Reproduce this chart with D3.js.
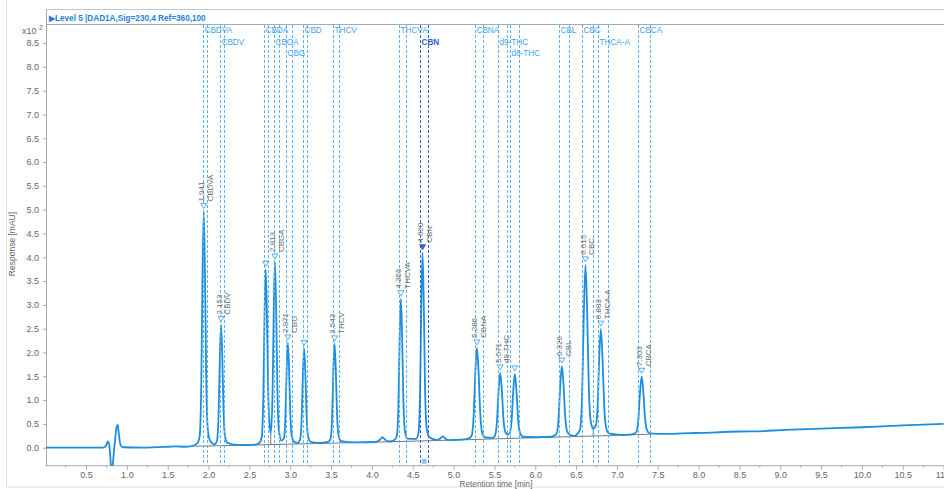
<!DOCTYPE html>
<html>
<head>
<meta charset="utf-8">
<script src="https://cdn.jsdelivr.net/npm/d3@7"></script>
<style>
  body { margin: 0; background: #fff; }
  svg { font-family: "Liberation Sans", Arial, sans-serif; display: block; }
  .tick text { fill: #666; font-size: 9px; }
  .tick line { stroke: #a4aab4; }
  .domain { stroke: #a4aab4; }
</style>
</head>
<body>
<div class="container"></div>
<script>
const w = 944
const h = 489

// compound windows (start / end retention time, min)
const windowNames = ["CBDVA","CBDV","CBDA","CBGA","CBG","CBD","THCV","THCVA","CBN","CBNA","d9-THC","d8-THC","CBL","CBC","THCA-A","CBCA"]
const windowStart = [1.936,2.140,2.675,2.805,2.945,3.153,3.528,4.328,4.593,5.263,5.544,5.691,6.291,6.573,6.765,7.259]
const windowEnd   = [1.978,2.186,2.724,2.859,3.022,3.206,3.601,4.418,4.684,5.364,5.651,5.805,6.417,6.711,6.895,7.409]
const selected = "CBN"

// detected peaks
const peakNames  = ["CBDVA","CBDV","CBDA","CBGA","CBG","CBD","THCV","THCVA","CBN","CBNA","d9-THC","d8-THC","CBL","CBC","THCA-A","CBCA"]
const peakTimes  = [1.941,2.153,2.700,2.813,2.971,3.170,3.543,4.355,4.620,5.286,5.571,5.750,6.326,6.615,6.803,7.303]
const peakLabels = ["1.941","2.153","2.700","2.813","2.971","3.170","3.543","4.355","4.620","5.286","5.571","5.750","6.326","6.615","6.803","7.303"]
const peakApex   = [4.96,2.585,3.745,3.9,2.2,2.085,2.18,3.13,4.095,2.095,1.57,1.55,1.715,3.84,2.49,1.5]

// signal trace [time min, response x10^2 mAU]
const trace = [
  [0,0],[0.5,0],[0.7,0],[0.745,0.04],[0.765,0.13],[0.785,0.05],[0.8,-0.25],[0.815,-0.6],[0.83,-0.3],[0.855,0.15],[0.875,0.44],[0.888,0.48],[0.9,0.32],[0.92,0.07],[0.95,0.01],[1.2,0.0],[1.5,0.02],[1.6,0.03],[1.7,0.02],[1.8,0.035],
  [1.861,0.09],[1.891,0.24],[1.911,1.32],[1.926,3.58],[1.941,4.96],[1.956,3.68],[1.971,1.52],[1.991,0.38],[2.021,0.14],
  [2.073,0.07],[2.103,0.145],[2.123,0.71],[2.138,1.87],[2.153,2.585],[2.168,1.925],[2.183,0.81],[2.203,0.22],[2.233,0.1],
  [2.35,0.06],[2.55,0.06],
  [2.62,0.1],[2.65,0.21],[2.67,1.02],[2.685,2.71],[2.70,3.745],[2.715,2.79],[2.73,1.17],[2.75,0.45],[2.762,0.3],
  [2.783,1.07],[2.798,2.83],[2.813,3.9],[2.828,2.9],[2.843,1.22],[2.863,0.34],[2.893,0.15],
  [2.921,0.19],[2.941,0.63],[2.956,1.61],[2.971,2.2],[2.986,1.65],[3.001,0.72],[3.021,0.23],[3.051,0.12],
  [3.09,0.1],[3.12,0.165],[3.14,0.605],[3.155,1.525],[3.17,2.085],[3.185,1.565],[3.20,0.685],[3.22,0.225],[3.25,0.125],
  [3.35,0.1],
  [3.463,0.12],[3.493,0.18],[3.513,0.64],[3.528,1.6],[3.543,2.18],[3.558,1.64],[3.573,0.72],[3.593,0.25],[3.623,0.14],
  [3.8,0.11],[4.05,0.12],[4.1,0.17],[4.13,0.22],[4.16,0.17],[4.21,0.13],
  [4.275,0.16],[4.305,0.25],[4.325,0.91],[4.34,2.29],[4.355,3.13],[4.37,2.35],[4.385,1.03],[4.405,0.34],[4.435,0.19],
  [4.54,0.185],[4.57,0.305],[4.59,1.17],[4.605,2.99],[4.62,4.095],[4.635,3.07],[4.65,1.33],[4.67,0.42],[4.70,0.225],
  [4.8,0.16],[4.84,0.2],[4.87,0.24],[4.9,0.19],[4.95,0.16],[5.1,0.17],
  [5.186,0.195],[5.221,0.25],[5.246,0.675],[5.266,1.56],[5.286,2.095],[5.306,1.6],[5.326,0.75],[5.351,0.31],[5.386,0.215],
  [5.471,0.205],[5.506,0.245],[5.531,0.55],[5.551,1.18],[5.571,1.57],[5.591,1.21],[5.611,0.6],[5.636,0.32],[5.66,0.28],
  [5.685,0.3],[5.71,0.55],[5.73,1.17],[5.75,1.55],[5.77,1.2],[5.79,0.6],[5.815,0.3],[5.85,0.23],
  [6.0,0.22],[6.2,0.23],
  [6.226,0.25],[6.261,0.295],[6.286,0.62],[6.306,1.3],[6.326,1.715],[6.346,1.33],[6.366,0.68],[6.391,0.34],[6.426,0.265],
  [6.48,0.25],
  [6.515,0.285],[6.55,0.395],[6.575,1.18],[6.595,2.83],[6.615,3.84],[6.635,2.91],[6.655,1.33],[6.68,0.55],[6.71,0.4],
  [6.74,0.45],[6.763,0.84],[6.783,1.87],[6.803,2.49],[6.823,1.91],[6.843,0.93],[6.868,0.42],[6.903,0.3],
  [7.05,0.27],[7.15,0.275],
  [7.203,0.29],[7.238,0.33],[7.263,0.6],[7.283,1.16],[7.303,1.5],[7.323,1.18],[7.343,0.65],[7.368,0.37],[7.403,0.3],
  [7.5,0.29],[7.8,0.3],[8.0,0.31],[8.5,0.34],[8.8,0.35],[9.0,0.37],[9.5,0.4],[10.0,0.43],[10.5,0.47],[11.0,0.5]
]

// integration baseline and drop lines
const intBase = [[1.84,0.03],[3.0,0.075],[4.0,0.115],[5.0,0.16],[6.0,0.21],[7.0,0.26],[7.42,0.285]]
const dropTimes = [2.762,5.66,6.71]
const dropTops  = [0.3,0.28,0.4]

const xTicks = [0.5,1,1.5,2,2.5,3,3.5,4,4.5,5,5.5,6,6.5,7,7.5,8,8.5,9,9.5,10,10.5,11]
const xMinor = [0.25,0.75,1.25,1.75,2.25,2.75,3.25,3.75,4.25,4.75,5.25,5.75,6.25,6.75,7.25,7.75,8.25,8.75,9.25,9.75,10.25,10.75]
const yTicks = [0,0.5,1,1.5,2,2.5,3,3.5,4,4.5,5,5.5,6,6.5,7,7.5,8,8.5]

const plotLeft = 46, plotTop = 24, plotBottom = 465.7

const x = d3.scaleLinear().domain([0, 11]).range([45.2, 943.6])
const y = d3.scaleLinear().domain([-0.378, 8.9]).range([plotBottom, plotTop])

const svg = d3.select(".container")
              .append("svg")
              .attr("width", w)
              .attr("height", h)

svg.append("defs").append("clipPath")
    .attr("id", "plot")
  .append("rect")
    .attr("x", plotLeft).attr("y", plotTop)
    .attr("width", w - plotLeft).attr("height", plotBottom - plotTop)

// outer frame
svg.append("rect")
    .attr("x", 6.5).attr("y", -2)
    .attr("width", w).attr("height", 489)
    .attr("fill", "none")
    .attr("stroke", "#dfe1e4")

// header bar
svg.append("line")
    .attr("x1", plotLeft).attr("x2", w).attr("y1", 9.5).attr("y2", 9.5)
    .attr("stroke", "#c4c6ca")
svg.append("line")
    .attr("x1", plotLeft).attr("x2", w).attr("y1", plotTop + 0.5).attr("y2", plotTop + 0.5)
    .attr("stroke", "#a4aab4")
svg.append("line")
    .attr("x1", plotLeft + 0.5).attr("x2", plotLeft + 0.5).attr("y1", 9.5).attr("y2", plotTop)
    .attr("stroke", "#a4aab4")
svg.append("text")
    .attr("x", 49).attr("y", 20.5)
    .attr("fill", "#1f7fd6")
    .attr("font-size", 8.2)
    .attr("font-weight", "bold")
    .text("\u25B6Level 5 |DAD1A,Sig=230,4 Ref=360,100")

// axes
const yAxis = d3.axisLeft(y).tickValues(yTicks).tickFormat(d3.format(".1f")).tickSize(3).tickSizeOuter(0)
const xAxis = d3.axisBottom(x).tickValues(xTicks).tickFormat(d3.format(".1f")).tickSize(4).tickSizeOuter(0)

svg.append("g")
    .attr("id", "y-axis")
    .attr("transform", `translate(${plotLeft}, 0)`)
    .call(yAxis)
    .call(g => g.selectAll(".tick text").attr("dx", "-1"))

svg.append("g")
    .attr("id", "x-axis")
    .attr("transform", `translate(0, ${plotBottom})`)
    .call(xAxis)
    .call(g => g.select(".domain").attr("d", `M${plotLeft},0H${w}`))
    .call(g => g.selectAll(".tick text").attr("y", 5.5))

svg.append("g")
    .attr("transform", `translate(0, ${plotBottom})`)
    .selectAll("line")
    .data(xMinor)
    .enter()
    .append("line")
      .attr("x1", d => x(d)).attr("x2", d => x(d))
      .attr("y1", 0).attr("y2", 2)
      .attr("stroke", "#a4aab4")

svg.append("text")
    .attr("x", 22).attr("y", 34)
    .attr("fill", "#666").attr("font-size", 9)
    .text("x10")
svg.append("text")
    .attr("x", 39).attr("y", 30)
    .attr("fill", "#666").attr("font-size", 7)
    .text("2")

svg.append("text")
    .attr("transform", "translate(15, 244) rotate(-90)")
    .attr("text-anchor", "middle")
    .attr("fill", "#666").attr("font-size", 8.5)
    .text("Response [mAU]")

svg.append("text")
    .attr("x", 496).attr("y", 487)
    .attr("text-anchor", "middle")
    .attr("fill", "#666").attr("font-size", 8.2)
    .text("Retention time [min]")

const plot = svg.append("g").attr("clip-path", "url(#plot)")

// integration baseline
const baseAt = d3.scaleLinear().domain(intBase.map(p => p[0])).range(intBase.map(p => p[1]))
plot.append("path")
    .datum(intBase)
    .attr("fill", "none")
    .attr("stroke", "#555")
    .attr("stroke-width", 0.8)
    .attr("d", d3.line().x(d => x(d[0])).y(d => y(d[1])))

plot.selectAll(".drop")
    .data(dropTimes)
    .enter()
    .append("line")
      .attr("class", "drop")
      .attr("x1", d => x(d)).attr("x2", d => x(d))
      .attr("y1", d => y(baseAt(d)))
      .attr("y2", (d, i) => y(dropTops[i]))
      .attr("stroke", "#555")
      .attr("stroke-width", 0.8)

// signal
plot.append("path")
    .datum(trace)
    .attr("fill", "none")
    .attr("stroke", "#1b8ee0")
    .attr("stroke-width", 1.8)
    .attr("stroke-linejoin", "round")
    .attr("d", d3.line().curve(d3.curveMonotoneX).x(d => x(d[0])).y(d => y(d[1])))

// compound windows
const windows = windowNames.map((n, i) => ({name: n, start: windowStart[i], end: windowEnd[i]}))
const winColor = d => d.name === selected ? "#2f63c4" : "#5bb2ee"

windows.forEach(d => {
  [d.start, d.end].forEach(t => {
    svg.append("line")
        .attr("x1", Math.round(x(t)) + 0.5).attr("x2", Math.round(x(t)) + 0.5)
        .attr("y1", plotTop + 1).attr("y2", plotBottom)
        .attr("stroke", winColor(d))
        .attr("stroke-dasharray", "3,2")
  })
})

// window name labels, cascading over three rows when they collide
const rowY = [33, 44.5, 56]
let prevEnd = -1, prevRow = -1
windows.forEach(d => {
  const lx = Math.round(x(d.start)) + 1.5
  const t = svg.append("text")
      .attr("x", lx)
      .attr("fill", d.name === selected ? "#2f63c4" : "#3ea4ee")
      .attr("font-size", 8.2)
      .attr("font-weight", d.name === selected ? "bold" : "normal")
      .text(d.name)
  const row = lx < prevEnd ? (prevRow + 1) % 3 : 0
  t.attr("y", rowY[row])
  prevEnd = lx + t.node().getComputedTextLength() + 3
  prevRow = row
})

// selected window marker
const sel = windows.find(d => d.name === selected)
svg.append("rect")
    .attr("x", (x(sel.start) + x(sel.end)) / 2 - 2.5)
    .attr("y", plotBottom - 7)
    .attr("width", 5).attr("height", 5)
    .attr("fill", "#8cc6f2")

// peaks: markers and labels
const peaks = peakNames.map((n, i) => ({name: n, t: peakTimes[i], label: peakLabels[i], apex: peakApex[i]}))

svg.selectAll(".mark")
    .data(peaks)
    .enter()
    .append("path")
      .attr("class", "mark")
      .attr("d", d => {
        const px = x(d.t), py = y(d.apex)
        return `M${px - 3},${py - 8}L${px + 3},${py - 8}L${px},${py - 3}Z`
      })
      .attr("fill", d => d.name === selected ? "#2f63c4" : "#fff")
      .attr("stroke", d => d.name === selected ? "#2f63c4" : "#3ea4ee")
      .attr("stroke-width", 0.9)

// peak labels; a smaller peak's label is dropped when it would collide
const placed = []
peaks.slice().sort((a, b) => b.apex - a.apex).forEach(d => {
  const px = x(d.t), py = y(d.apex) - 10
  const g = svg.append("g")
      .attr("transform", `translate(${px + 0.5}, ${py}) rotate(-90)`)
      .attr("fill", "#6c6c6c")
      .attr("font-size", 8)
  const a = g.append("text").attr("y", 0).text(d.label)
  const b = g.append("text").attr("y", 8.5).text(d.name)
  const len = Math.max(a.node().getComputedTextLength(), b.node().getComputedTextLength())
  const box = {x0: px - 8, x1: px + 11, y0: py - len, y1: py}
  const hit = placed.some(p => box.x0 < p.x1 && box.x1 > p.x0 && box.y0 < p.y1 && box.y1 > p.y0)
  if (hit) g.remove()
  else placed.push(box)
})
</script>
</body>
</html>
